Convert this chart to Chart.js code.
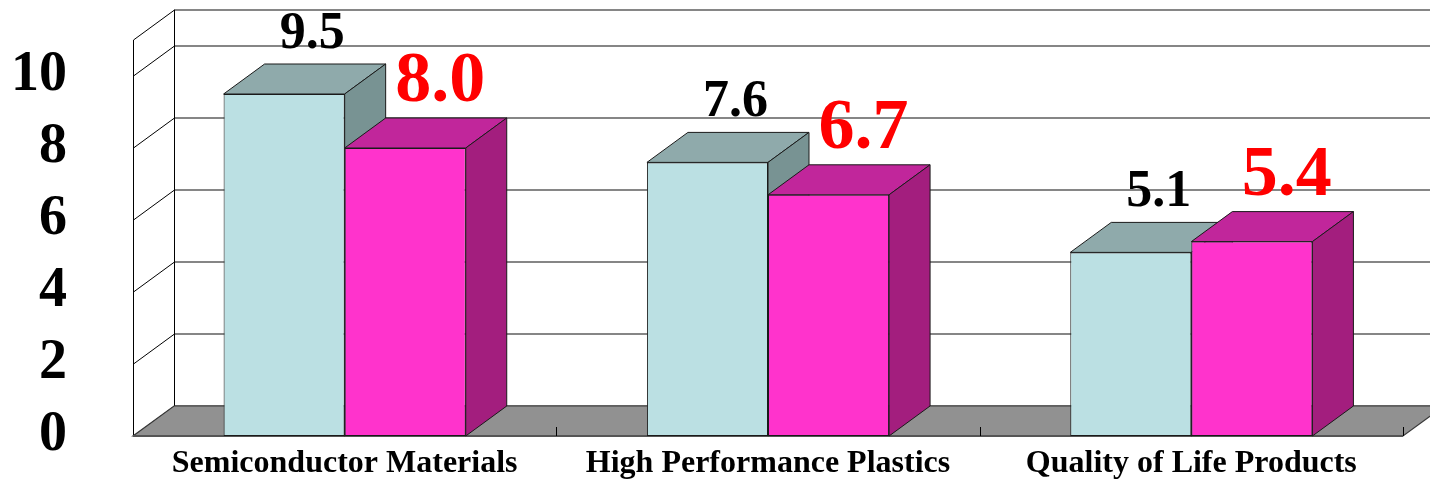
<!DOCTYPE html>
<html>
<head>
<meta charset="utf-8">
<script src="https://cdn.jsdelivr.net/npm/chart.js@4/dist/chart.umd.min.js"></script>
<style>
  html, body { margin: 0; padding: 0; background: #ffffff; }
  #wrap { width: 1430px; height: 481px; position: relative; }
</style>
</head>
<body>
<div id="wrap"><canvas id="chart"></canvas></div>
<script>
// ---- data ----
const categories = ['Semiconductor Materials', 'High Performance Plastics', 'Quality of Life Products'];
const seriesA = [9.5, 7.6, 5.1];
const seriesB = [8.0, 6.7, 5.4];
const yTickValues = [0, 2, 4, 6, 8, 10];
const yMax = 11;

// ---- look ----
const SERIF = '"Liberation Serif", "Times New Roman", serif';
const DEPTH_X = 41;   // oblique depth of the 3D box, pixels
const DEPTH_Y = -30;

const faceColors = [
  { front: '#BBE0E3', top: '#8FAAAB', side: '#789393' },
  { front: '#FF33CC', top: '#C1269B', side: '#A31E7E' }
];
const labelStyles = [
  { color: '#000000', size: 52, shiftX: 28, lift: 46 },
  { color: '#FF0000', size: 72, shiftX: 35, lift: 47 }
];

function poly(ctx, pts, fill, stroke, lw) {
  ctx.beginPath();
  ctx.moveTo(pts[0][0], pts[0][1]);
  for (let i = 1; i < pts.length; i++) ctx.lineTo(pts[i][0], pts[i][1]);
  ctx.closePath();
  if (fill) { ctx.fillStyle = fill; ctx.fill(); }
  if (stroke) { ctx.strokeStyle = stroke; ctx.lineWidth = lw || 1; ctx.stroke(); }
}
function seg(ctx, x1, y1, x2, y2) {
  ctx.beginPath(); ctx.moveTo(x1, y1); ctx.lineTo(x2, y2); ctx.stroke();
}

// walls, floor and the top/side faces of every bar
const box3d = {
  id: 'box3d',
  beforeDatasetsDraw(chart) {
    const ctx = chart.ctx;
    const ys = chart.scales.y, xs = chart.scales.x;
    const L = chart.chartArea.left, R = chart.chartArea.right;
    const y0 = ys.getPixelForValue(0), yTop = ys.getPixelForValue(yMax);
    const wallValues = yTickValues.concat([yMax]);
    ctx.save();

    // back wall gridlines
    ctx.strokeStyle = '#868686';
    ctx.lineWidth = 2;
    wallValues.forEach(v => {
      const py = Math.round(ys.getPixelForValue(v) + DEPTH_Y);
      seg(ctx, L + DEPTH_X, py, R + DEPTH_X + 10, py);
    });

    // side wall
    ctx.strokeStyle = '#000000';
    ctx.lineWidth = 1;
    wallValues.forEach(v => {
      const py = ys.getPixelForValue(v);
      seg(ctx, L + 0.5, py, L + DEPTH_X + 0.5, py + DEPTH_Y);
    });
    seg(ctx, L + 0.5, yTop, L + 0.5, y0);
    seg(ctx, L + DEPTH_X + 0.5, yTop + DEPTH_Y, L + DEPTH_X + 0.5, y0 + DEPTH_Y);

    // floor
    poly(ctx, [[L, y0], [R, y0], [R + DEPTH_X, y0 + DEPTH_Y], [L + DEPTH_X, y0 + DEPTH_Y]],
         '#919191', '#3a3a3a', 1.2);
    ctx.strokeStyle = '#555555';
    ctx.lineWidth = 2;
    seg(ctx, L, y0, R, y0);

    // category divider ticks on the floor edge
    ctx.strokeStyle = '#000000';
    ctx.lineWidth = 1;
    const n = categories.length;
    for (let k = 1; k <= n; k++) {
      const px = k < n ? (xs.getPixelForValue(k - 1) + xs.getPixelForValue(k)) / 2 : R;
      seg(ctx, Math.round(px) + 0.5, y0, Math.round(px) + 0.5, y0 - 9);
    }

    // top and side faces, left series first so the right one overlaps it
    chart.data.datasets.forEach((ds, i) => {
      const meta = chart.getDatasetMeta(i);
      const col = faceColors[i];
      meta.data.forEach(el => {
        const p = el.getProps(['x', 'y', 'base', 'width'], true);
        const l = p.x - p.width / 2, r = p.x + p.width / 2;
        const t = p.y, b = p.base;
        poly(ctx, [[l, t], [r, t], [r + DEPTH_X, t + DEPTH_Y], [l + DEPTH_X, t + DEPTH_Y]], col.top, '#1a1a1a', 1);
        poly(ctx, [[r, t], [r + DEPTH_X, t + DEPTH_Y], [r + DEPTH_X, b + DEPTH_Y], [r, b]], col.side, '#1a1a1a', 1);
      });
    });
    ctx.restore();
  },
  afterDatasetsDraw(chart) {
    const ctx = chart.ctx;
    ctx.save();
    ctx.textAlign = 'center';
    ctx.textBaseline = 'alphabetic';
    chart.data.datasets.forEach((ds, i) => {
      const meta = chart.getDatasetMeta(i);
      const st = labelStyles[i];
      ctx.fillStyle = st.color;
      ctx.font = 'bold ' + st.size + 'px ' + SERIF;
      meta.data.forEach((el, j) => {
        const p = el.getProps(['x', 'y'], true);
        ctx.fillText(ds.data[j].toFixed(1), p.x + st.shiftX, p.y - st.lift);
      });
    });
    ctx.restore();
  }
};

new Chart(document.getElementById('chart'), {
  type: 'bar',
  data: {
    labels: categories,
    datasets: [
      { label: 'A', data: seriesA, backgroundColor: faceColors[0].front,
        borderColor: '#1a1a1a', borderWidth: 1, borderSkipped: false },
      { label: 'B', data: seriesB, backgroundColor: faceColors[1].front,
        borderColor: '#1a1a1a', borderWidth: 1, borderSkipped: false }
    ]
  },
  options: {
    responsive: true,
    maintainAspectRatio: false,
    animation: false,
    devicePixelRatio: 1,
    layout: { padding: { top: 40, right: 27, bottom: 0, left: 0 } },
    categoryPercentage: 0.572,
    barPercentage: 1.0,
    plugins: { legend: { display: false }, tooltip: { enabled: false } },
    datasets: { bar: { clip: false } },
    scales: {
      x: {
        grid: { display: false, drawTicks: false },
        border: { display: false },
        ticks: {
          color: '#000000',
          font: { family: SERIF, size: 32, weight: 'bold' },
          padding: 9,
          maxRotation: 0,
          autoSkip: false
        },
        afterFit(scale) {
          scale.height = 45;
          scale.paddingLeft = 0;
          scale.paddingRight = 0;
        }
      },
      y: {
        min: 0,
        max: yMax,
        grid: { display: false, drawTicks: false },
        border: { display: false },
        afterBuildTicks(scale) { scale.ticks = yTickValues.map(v => ({ value: v })); },
        ticks: {
          color: '#000000',
          font: { family: SERIF, size: 56, weight: 'bold' },
          padding: 66
        },
        afterFit(scale) {
          scale.width = 133;
          scale.paddingTop = 0;
          scale.paddingBottom = 0;
        }
      }
    }
  },
  plugins: [box3d]
});
</script>
</body>
</html>
